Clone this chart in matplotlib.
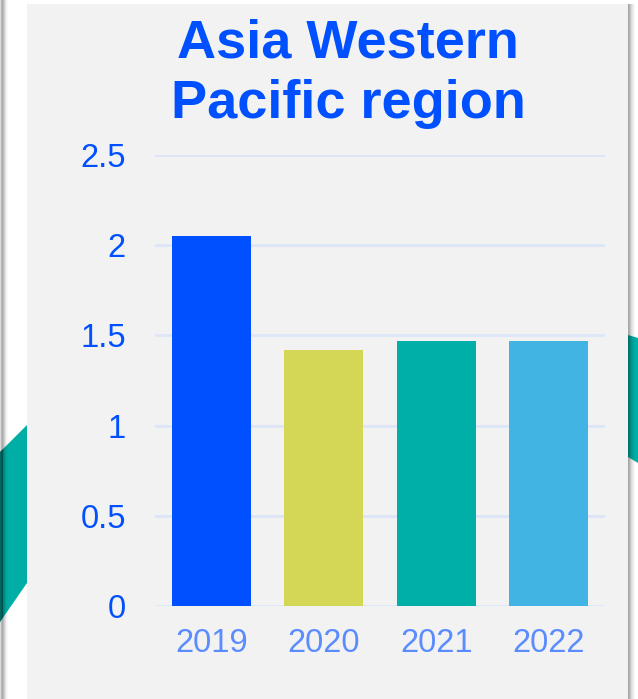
import numpy as np
import matplotlib
matplotlib.use("Agg")
import matplotlib.pyplot as plt
from matplotlib.patches import Rectangle, Polygon

# datos del grafico
anios = ["2019", "2020", "2021", "2022"]
valores = [2.05, 1.42, 1.47, 1.47]
colores = ["#0050ff", "#d4d755", "#00b0a8", "#41b4e4"]
ticks_y = [0, 0.5, 1, 1.5, 2, 2.5]
etiquetas_y = ["0", "0.5", "1", "1.5", "2", "2.5"]

plt.rcParams["font.family"] = ["Liberation Sans", "DejaVu Sans"]

W, H = 638, 699
fig = plt.figure(figsize=(W / 100, H / 100), dpi=100)
fig.patch.set_facecolor("white")

def px(x, y):
    # pixeles (origen arriba a la izquierda) a coordenadas de figura
    return (x / W, 1 - y / H)

# formas decorativas verdes a los lados
izq = Polygon([px(0, 452), px(27, 425), px(27, 583), px(0, 622)], closed=True,
              transform=fig.transFigure, facecolor="#00aea5", edgecolor="none")
fig.patches.append(izq)
izq_borde = Polygon([px(0, 452), px(3, 449), px(3, 617), px(0, 622)], closed=True,
                    transform=fig.transFigure, facecolor="#007a73", edgecolor="none")
fig.patches.append(izq_borde)
der = Polygon([px(628, 335), px(638, 338), px(638, 463), px(628, 457)], closed=True,
              transform=fig.transFigure, facecolor="#00aea5", edgecolor="none")
fig.patches.append(der)

# sombras grises en los bordes
for i, a in enumerate([0.25, 0.45, 0.55, 0.45, 0.3, 0.18, 0.08, 0.03]):
    fig.patches.append(Rectangle(px(i, H), 1 / W, 1, transform=fig.transFigure,
                                 facecolor="black", alpha=a * 0.6, edgecolor="none"))
for i, a in enumerate([0.35, 0.3, 0.22, 0.15, 0.1, 0.06, 0.03]):
    fig.patches.append(Rectangle(px(628 + i, H), 1 / W, 1 - 4 / H, transform=fig.transFigure,
                                 facecolor="black", alpha=a, edgecolor="none"))

# panel gris
fig.patches.append(Rectangle(px(27, H), 601 / W, 1 - 4 / H, transform=fig.transFigure,
                             facecolor="#f2f2f2", edgecolor="none"))

ax = fig.add_axes([155 / W, (H - 606) / H, 450 / W, 451 / H])
ax.set_zorder(5)
ax.set_facecolor("none")
ax.bar(range(len(anios)), valores, width=0.7, color=colores, zorder=3)
ax.set_xlim(-0.5, 3.5)
ax.set_ylim(0, 2.5)
ax.set_yticks(ticks_y)
ax.set_yticklabels(etiquetas_y)
ax.set_xticks(range(len(anios)))
ax.set_xticklabels(anios)
ax.grid(axis="y", color="#dce6f8", linewidth=2, zorder=0)
ax.set_axisbelow(True)
for s in ax.spines.values():
    s.set_visible(False)
ax.tick_params(axis="y", length=0, pad=21, labelsize=23.5, labelcolor="#0050ff")
ax.tick_params(axis="x", length=0, pad=16, labelsize=23.5, labelcolor="#5b8cff")

fig.text(348 / W, 1 - 74 / H, "Asia Western\nPacific region", ha="center", va="center",
         fontsize=39, fontweight="bold", color="#0050ff", linespacing=1.28, zorder=6)

fig.savefig("out.png", dpi=100)
